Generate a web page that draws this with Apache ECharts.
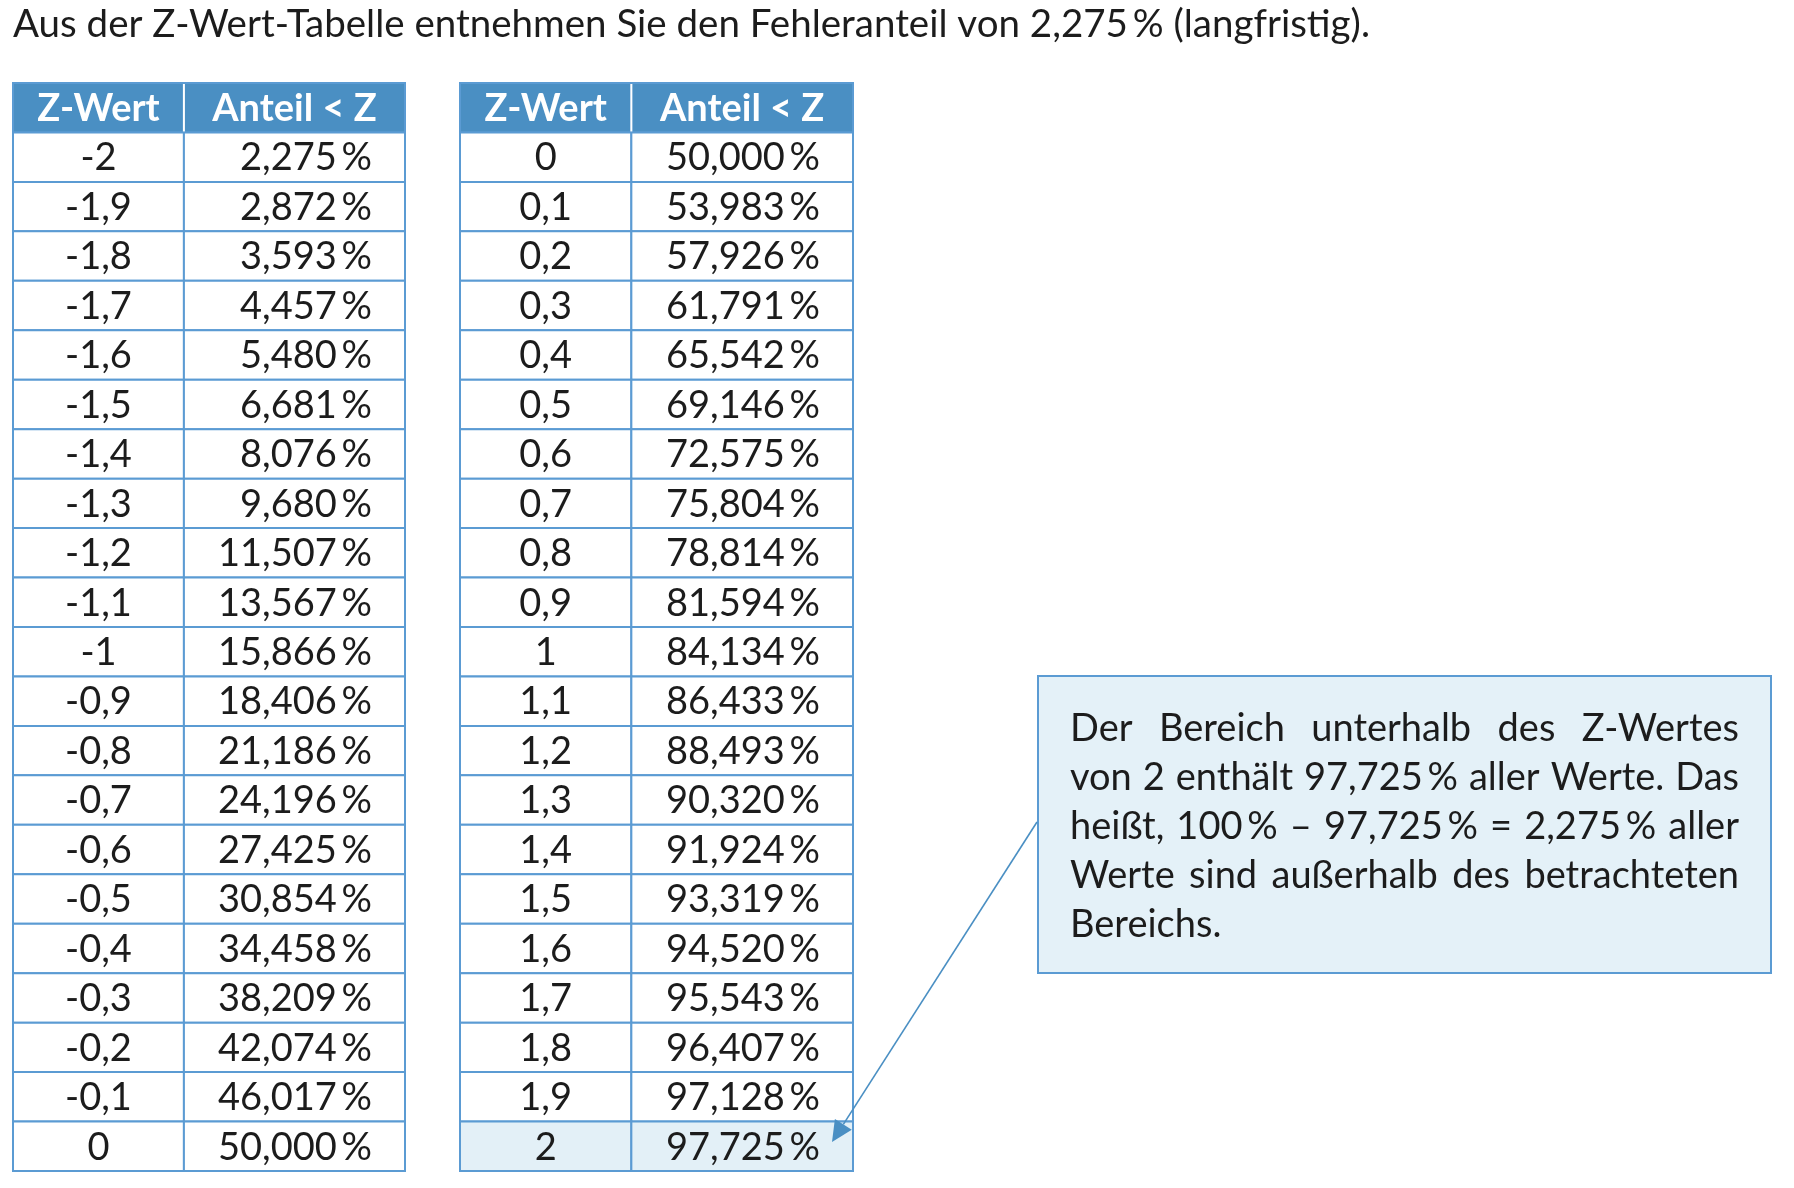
<!DOCTYPE html>
<html><head><meta charset="utf-8">
<script src="https://cdn.jsdelivr.net/npm/echarts@6/dist/echarts.min.js"></script>
<style>html,body{margin:0;padding:0;background:#fff}#c{width:1794px;height:1188px}</style>
</head><body><div id="c"></div>
<script>
const titleText = 'Aus der Z-Wert-Tabelle entnehmen Sie den Fehleranteil von 2,275\u2009% (langfristig).';
const headers = ['Z-Wert', 'Anteil < Z'];
const zLeft = [-2, -1.9, -1.8, -1.7, -1.6, -1.5, -1.4, -1.3, -1.2, -1.1, -1, -0.9, -0.8, -0.7, -0.6, -0.5, -0.4, -0.3, -0.2, -0.1, 0];
const pLeft = [2.275, 2.872, 3.593, 4.457, 5.480, 6.681, 8.076, 9.680, 11.507, 13.567, 15.866, 18.406, 21.186, 24.196, 27.425, 30.854, 34.458, 38.209, 42.074, 46.017, 50.000];
const zRight = [0, 0.1, 0.2, 0.3, 0.4, 0.5, 0.6, 0.7, 0.8, 0.9, 1, 1.1, 1.2, 1.3, 1.4, 1.5, 1.6, 1.7, 1.8, 1.9, 2];
const pRight = [50.000, 53.983, 57.926, 61.791, 65.542, 69.146, 72.575, 75.804, 78.814, 81.594, 84.134, 86.433, 88.493, 90.320, 91.924, 93.319, 94.520, 95.543, 96.407, 97.128, 97.725];
const highlightZ = 2;
const calloutLines = [
  'Der Bereich unterhalb des Z-Wertes',
  'von 2 enthält 97,725\u2009% aller Werte. Das',
  'heißt, 100\u2009% – 97,725\u2009% = 2,275\u2009% aller',
  'Werte sind außerhalb des betrachteten',
  'Bereichs.'
];

const FONT = 'Lato, "Open Sans", sans-serif';
const C_HEAD = '#4a8fc3', C_BORDER = '#5b9bd3', C_HL = '#e3f0f7', C_TEXT = '#1c1c1c';
const SPLIT = 0.436;

function fmtZ(z) { return String(z).replace('.', ','); }
function fmtP(p) { return p.toFixed(3).replace('.', ',') + '\u2009%'; }

function buildCells(zs, ps) {
  const cells = [];
  headers.forEach((h, c) => cells.push({col: c, row: 0, text: h, kind: 'head'}));
  zs.forEach((z, i) => {
    const hl = z === highlightZ;
    cells.push({col: 0, row: i + 1, text: fmtZ(z), kind: hl ? 'hl' : 'body'});
    cells.push({col: 1, row: i + 1, text: fmtP(ps[i]), kind: hl ? 'hl' : 'body'});
  });
  return cells;
}
const cellsL = buildCells(zLeft, pLeft);
const cellsR = buildCells(zRight, pRight);
const rowCats = ['head'].concat(zLeft.map((_, i) => 'r' + i));

function makeRender(cells) {
  return function (params, api) {
    const c = cells[params.dataIndex];
    const xa = api.coord([c.col === 0 ? 0 : SPLIT, c.row])[0];
    const xb = api.coord([c.col === 0 ? SPLIT : 1, c.row])[0];
    const yc = api.coord([0, c.row])[1];
    const h = api.size([0, 1])[1];
    const children = [];
    const fill = c.kind === 'head' ? C_HEAD : (c.kind === 'hl' ? C_HL : '#ffffff');
    children.push({type: 'rect', shape: {x: xa, y: yc - h / 2, width: xb - xa, height: h},
      style: {fill: fill, stroke: C_BORDER, lineWidth: 2}});
    if (c.kind === 'head' && c.col === 0) {
      children.push({type: 'line', shape: {x1: xb, y1: yc - h / 2 + 1, x2: xb, y2: yc + h / 2 - 1},
        style: {stroke: '#ffffff', lineWidth: 2}, z2: 5});
    }
    let tx, align;
    if (c.kind !== 'head' && c.col === 1) { tx = xb - 33; align = 'right'; }
    else { tx = (xa + xb) / 2; align = 'center'; }
    children.push({type: 'text', x: tx, y: yc + 1, z2: 10, style: {
      text: c.text, align: align, verticalAlign: 'middle',
      font: (c.kind === 'head' ? 'bold 38px ' : '38px ') + FONT,
      fill: c.kind === 'head' ? '#ffffff' : C_TEXT}});
    return {type: 'group', children: children};
  };
}

// justified callout text, font auto-fitted to the box width
const meas = document.createElement('canvas').getContext('2d');
const CX0 = 1070, CX1 = 1739, CY0 = 729, CLH = 49;
let cfs = 41;
while (cfs > 30) {
  meas.font = cfs + 'px ' + FONT;
  const maxW = Math.max.apply(null, calloutLines.map(l => meas.measureText(l).width));
  if (maxW <= CX1 - CX0) break;
  cfs -= 0.5;
}
const CFONT = cfs + 'px ' + FONT;
meas.font = CFONT;
const calloutGraphics = [];
calloutLines.forEach((line, li) => {
  const y = CY0 + li * CLH;
  const words = line.split(' ');
  if (li === calloutLines.length - 1 || words.length < 2) {
    calloutGraphics.push({type: 'text', x: CX0, y: y, z: 20, style: {text: line, font: CFONT, fill: C_TEXT, align: 'left', verticalAlign: 'middle'}});
    return;
  }
  const widths = words.map(w => meas.measureText(w).width);
  const total = widths.reduce((a, b) => a + b, 0);
  const gap = (CX1 - CX0 - total) / (words.length - 1);
  let x = CX0;
  words.forEach((w, wi) => {
    calloutGraphics.push({type: 'text', x: x, y: y, z: 20, style: {text: w, font: CFONT, fill: C_TEXT, align: 'left', verticalAlign: 'middle'}});
    x += widths[wi] + gap;
  });
});

// arrow
const A0 = [1037, 822], A1 = [832, 1142];
const dx = A1[0] - A0[0], dy = A1[1] - A0[1], L = Math.hypot(dx, dy);
const ux = dx / L, uy = dy / L, AL = 21, AW = 10;
const bx = A1[0] - ux * AL, by = A1[1] - uy * AL;

const chart = echarts.init(document.getElementById('c'), null, {renderer: 'canvas'});
chart.setOption({
  backgroundColor: '#ffffff',
  animation: false,
  grid: [
    {left: 13, top: 83, width: 392, height: 1088},
    {left: 460, top: 83, width: 393, height: 1088}
  ],
  xAxis: [
    {type: 'value', min: 0, max: 1, show: false, gridIndex: 0},
    {type: 'value', min: 0, max: 1, show: false, gridIndex: 1}
  ],
  yAxis: [
    {type: 'category', data: rowCats, inverse: true, show: false, gridIndex: 0},
    {type: 'category', data: rowCats, inverse: true, show: false, gridIndex: 1}
  ],
  series: [
    {type: 'custom', xAxisIndex: 0, yAxisIndex: 0, renderItem: makeRender(cellsL), data: cellsL.map(c => [c.col, c.row]), clip: false},
    {type: 'custom', xAxisIndex: 1, yAxisIndex: 1, renderItem: makeRender(cellsR), data: cellsR.map(c => [c.col, c.row]), clip: false}
  ],
  graphic: [
    {type: 'text', x: 13, y: 25, style: {text: titleText, font: '38.5px ' + FONT, fill: C_TEXT, verticalAlign: 'middle'}},
    {type: 'rect', shape: {x: 1038, y: 676, width: 733, height: 297}, z: 10, style: {fill: '#e4f1f8', stroke: C_BORDER, lineWidth: 2}},
    {type: 'line', shape: {x1: A0[0], y1: A0[1], x2: bx, y2: by}, z: 30, style: {stroke: C_HEAD, lineWidth: 1.6}},
    {type: 'polygon', shape: {points: [A1, [bx - uy * AW, by + ux * AW], [bx + uy * AW, by - ux * AW]]}, z: 30, style: {fill: C_HEAD}}
  ].concat(calloutGraphics)
});
</script>
</body></html>
